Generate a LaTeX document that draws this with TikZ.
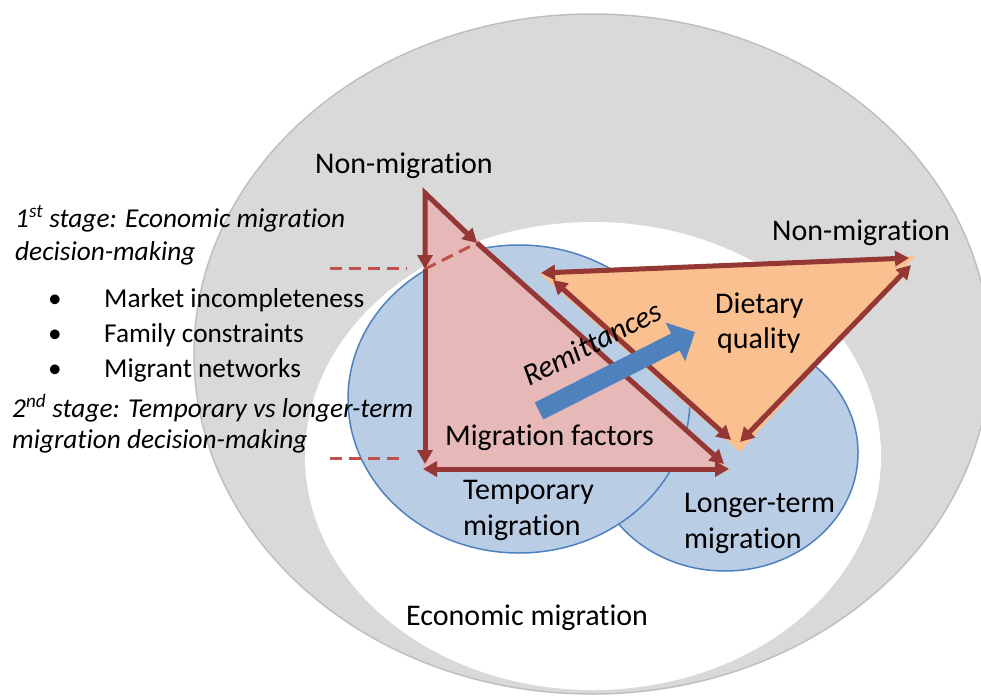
\documentclass[tikz,border=0pt]{standalone}
\usepackage{fontspec}
\setmainfont{Carlito}[Ligatures=NoCommon]
\usetikzlibrary{arrows.meta}
\definecolor{grayfill}{HTML}{D9D9D9}
\definecolor{grayline}{HTML}{BFBFBF}
\definecolor{bluefill}{HTML}{B9CDE5}
\definecolor{blueline}{HTML}{4F81BD}
\definecolor{pinkfill}{HTML}{E6B8B7}
\definecolor{orangefill}{HTML}{FAC090}
\definecolor{darkred}{HTML}{953735}
\definecolor{dashred}{HTML}{C0504D}
\begin{document}
\begin{tikzpicture}[x=1pt,y=-1pt,
  lbl/.style={inner sep=0pt, anchor=base west, font=\fontsize{30}{36}\selectfont},
  slbl/.style={inner sep=0pt, anchor=base west, font=\fontsize{27.3}{33}\selectfont},
  ilbl/.style={slbl, font=\fontsize{27.3}{33}\selectfont\itshape},
  circ/.style={fill=bluefill, draw=blueline, line width=1.5pt},
  rone/.style={draw=darkred, line width=5pt, line join=miter, -{Triangle[length=14pt,width=15pt]}},
  rtwo/.style={draw=darkred, line width=5pt, line join=miter, {Triangle[length=14pt,width=15pt]}-{Triangle[length=14pt,width=15pt]}},
  dashln/.style={draw=dashred, line width=3pt, dash pattern=on 12pt off 7pt},
  remit/.style={draw=blueline, line width=19pt, -{Triangle[length=22pt,width=42pt]}}]
\useasboundingbox (0,0) rectangle (981,695);
\clip (0,0) rectangle (981,695);
\fill[white] (0,0) rectangle (981,695);
% background ellipses
\draw[fill=grayfill, draw=grayline, line width=1.5pt] (592,354) ellipse [x radius=398, y radius=340];
\fill[white] (593,456) ellipse [x radius=288, y radius=234];
% blue circles
\draw[circ] (725,453) ellipse [x radius=133, y radius=118];
\draw[circ] (519,399) ellipse [x radius=171, y radius=154];
% triangle fills
\fill[pinkfill] (423,190) -- (423,471) -- (731,471) -- cycle;
\fill[orangefill] (539,273) -- (915,256) -- (740,452) -- cycle;
% coordinates
\coordinate (top) at (425,193);
\coordinate (v1) at (425,269);
\coordinate (v2) at (425,464);
\coordinate (h1) at (477,243);
\coordinate (h2) at (724,464);
\coordinate (b1) at (423,469);
\coordinate (b2) at (729,469);
\coordinate (o1) at (541,273);
\coordinate (o2) at (909,258);
\coordinate (ol1) at (553,280);
\coordinate (ol2) at (731,440);
\coordinate (or1) at (740,442);
\coordinate (or2) at (911,265);
\coordinate (d1) at (330,268);
\coordinate (d1e) at (407,268);
\coordinate (d2) at (330,458);
\coordinate (d2e) at (405,458);
% dashed stage lines
\draw[dashln] (d1) -- (d1e);
\draw[dashln] (v1) -- (h1);
\draw[dashln] (d2) -- (d2e);
% red arrows
\draw[rtwo] (v1) -- (top) -- (h1);
\draw[rone] (v1) -- (v2);
\draw[rone] (h1) -- (h2);
\draw[rtwo] (b1) -- (b2);
\draw[rtwo] (o1) -- (o2);
\draw[rtwo] (ol1) -- (ol2);
\draw[rtwo] (or1) -- (or2);
% remittances arrow
\coordinate (rt) at (539,411);
\coordinate (rh) at (695,332);
\draw[remit] (rt) -- (rh);
% texts
\node[lbl] (nm1) at (315,173) {Non-migration};
\node[lbl] (nm2) at (772,240) {Non-migration};
\node[lbl] (diet1) at (715,313) {Dietary};
\node[lbl] (diet2) at (717,348) {quality};
\node[lbl] (mf) at (445,445) {Migration factors};
\node[lbl] (tm1) at (463,499) {Temporary};
\node[lbl] (tm2) at (463,535) {migration};
\node[lbl] (lt1) at (684,512) {Longer-term};
\node[lbl] (lt2) at (684,548) {migration};
\node[lbl] (em) at (406,625) {Economic migration};
\node[lbl, font=\fontsize{30.5}{36}\selectfont\itshape, rotate=27] (rem) at (529,387) {Remittances};
\node[ilbl] (s1a) at (15,227) {1\textsuperscript{st} stage: Economic migration};
\node[ilbl] (s1b) at (15,260) {decision-making};
\node[slbl, anchor=base] (bu1) at (55,307) {\textbullet};
\node[slbl, anchor=base] (bu2) at (55,342) {\textbullet};
\node[slbl, anchor=base] (bu3) at (55,377) {\textbullet};
\node[slbl] (f1) at (104,307) {Market incompleteness};
\node[slbl] (f2) at (104,342) {Family constraints};
\node[slbl] (f3) at (104,377) {Migrant networks};
\node[ilbl] (s2a) at (12,417) {2\textsuperscript{nd} stage: Temporary vs longer-term};
\node[ilbl] (s2b) at (12,448) {migration decision-making};
\end{tikzpicture}
\end{document}
